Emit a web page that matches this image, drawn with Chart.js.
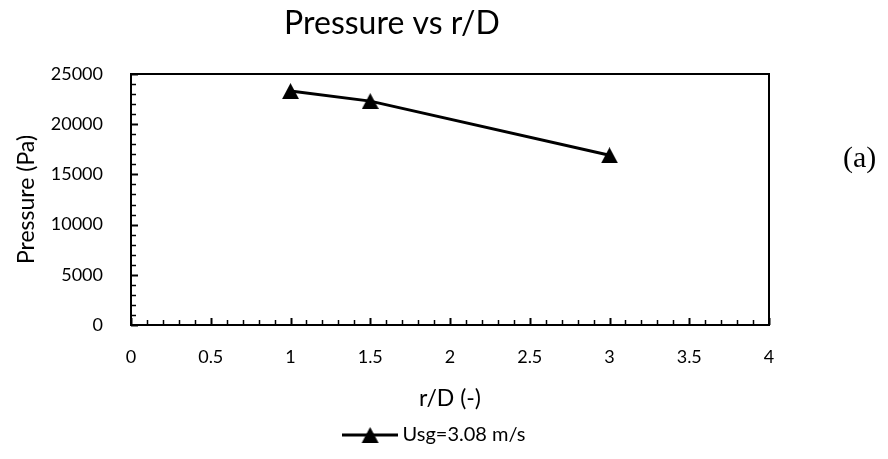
<!DOCTYPE html>
<html>
<head>
<meta charset="utf-8">
<script src="https://cdn.jsdelivr.net/npm/chart.js@4.4.0/dist/chart.umd.min.js"></script>
<style>
  html, body { margin: 0; padding: 0; background: #fff; }
  #wrap { position: relative; width: 888px; height: 459px; }
  #tag { position: absolute; left: 843px; top: 140px; font-family: "Liberation Serif", serif; font-size: 30px; color: #000; }
</style>
</head>
<body>
<div id="wrap">
  <canvas id="chart" width="888" height="459"></canvas>
  <div id="tag">(a)</div>
</div>
<script>
var rD = [1, 1.5, 3];
var pressure = [23300, 22300, 16900];
var seriesName = "Usg=3.08 m/s";
var xTicks = [0, 0.5, 1, 1.5, 2, 2.5, 3, 3.5, 4];
var yTicks = [0, 5000, 10000, 15000, 20000, 25000];

var FONT = "Lato";

// Excel-like triangle marker: its bounding box is centred on the point
function triangle(w, h) {
  var cv = document.createElement("canvas");
  cv.width = w;
  cv.height = h;
  var c = cv.getContext("2d");
  c.fillStyle = "#000";
  c.beginPath();
  c.moveTo(w / 2, 0);
  c.lineTo(w, h);
  c.lineTo(0, h);
  c.closePath();
  c.fill();
  return cv;
}
var marker = triangle(17, 16);

// legend symbol: line with the marker in the middle
var icon = document.createElement("canvas");
icon.width = 56;
icon.height = 20;
(function () {
  var c = icon.getContext("2d");
  c.strokeStyle = "#000";
  c.lineWidth = 3;
  c.beginPath();
  c.moveTo(0, 10);
  c.lineTo(56, 10);
  c.stroke();
  c.drawImage(marker, 20, 2);
})();

// move a layout box so its centre sits at cx
function centreAt(box, cx) {
  if (!box) return;
  var d = cx - (box.left + box.right) / 2;
  box.left += d;
  box.right += d;
}

// plot frame plus Excel-style inside tick marks
var frame = {
  id: "frame",
  afterLayout(chart) {
    centreAt(chart.titleBlock, 392);
    centreAt(chart.legend, 436);
  },
  beforeDatasetsDraw(chart) {
    var a = chart.chartArea, xs = chart.scales.x, ys = chart.scales.y, ctx = chart.ctx;
    ctx.save();
    ctx.strokeStyle = "#000";
    for (var i = 0; i <= 40; i++) {
      var px = Math.round(xs.getPixelForValue(i / 10)) + 0.5;
      var major = i % 5 === 0;
      ctx.lineWidth = major ? 2 : 1.5;
      ctx.beginPath();
      ctx.moveTo(px, a.bottom);
      ctx.lineTo(px, a.bottom - (major ? 7 : 5));
      ctx.stroke();
    }
    for (var j = 0; j <= 25; j++) {
      var py = Math.round(ys.getPixelForValue(j * 1000)) + 0.5;
      var maj = j % 5 === 0;
      ctx.lineWidth = maj ? 2 : 1.5;
      ctx.beginPath();
      ctx.moveTo(a.left, py);
      ctx.lineTo(a.left + (maj ? 7 : 5), py);
      ctx.stroke();
    }
    ctx.lineWidth = 2;
    ctx.strokeRect(a.left, a.top, a.width, a.height);
    ctx.restore();
  }
};

new Chart("chart", {
  type: "line",
  data: {
    datasets: [
      {
        label: seriesName,
        data: rD.map((x, i) => ({ x: x, y: pressure[i] })),
        borderColor: "#000",
        backgroundColor: "#000",
        borderWidth: 3,
        pointStyle: marker,
        pointRadius: 9,
        pointHoverRadius: 9,
        tension: 0,
      },
    ],
  },
  options: {
    responsive: false,
    animation: false,
    layout: { padding: { left: 0, right: 119, top: 0, bottom: 4 } },
    scales: {
      x: {
        type: "linear",
        min: 0,
        max: 4,
        afterBuildTicks: (s) => { s.ticks = xTicks.map((v) => ({ value: v })); },
        afterFit: (s) => { s.height = 90; },
        grid: { display: false, drawTicks: false },
        border: { display: false },
        ticks: {
          padding: 21,
          autoSkip: false,
          maxRotation: 0,
          color: "#000",
          font: { family: FONT, size: 18 },
          callback: (v) => String(v),
        },
        title: {
          display: true,
          text: "r/D (-)",
          color: "#000",
          font: { family: FONT, size: 23 },
          padding: { top: 10, bottom: 3 },
        },
      },
      y: {
        min: 0,
        max: 25000,
        afterBuildTicks: (s) => { s.ticks = yTicks.map((v) => ({ value: v })); },
        afterFit: (s) => { s.width = 131; },
        grid: { display: false, drawTicks: false },
        border: { display: false },
        ticks: {
          padding: 28,
          color: "#000",
          font: { family: FONT, size: 18 },
          callback: (v) => String(v),
        },
        title: {
          display: true,
          text: "Pressure (Pa)",
          color: "#000",
          font: { family: FONT, size: 23 },
          padding: { top: 13, bottom: 0 },
        },
      },
    },
    plugins: {
      title: {
        display: true,
        text: "Pressure vs r/D",
        fullSize: false,
        color: "#000",
        font: { family: FONT, size: 32, weight: "normal" },
        padding: { top: 4, bottom: 31.6 },
      },
      legend: {
        position: "bottom",
        fullSize: false,
        labels: {
          usePointStyle: true,
          pointStyle: icon,
          pointStyleWidth: 46,
          color: "#000",
          font: { family: FONT, size: 20 },
          padding: 10,
        },
      },
      tooltip: { enabled: false },
    },
  },
  plugins: [frame],
});
</script>
</body>
</html>
